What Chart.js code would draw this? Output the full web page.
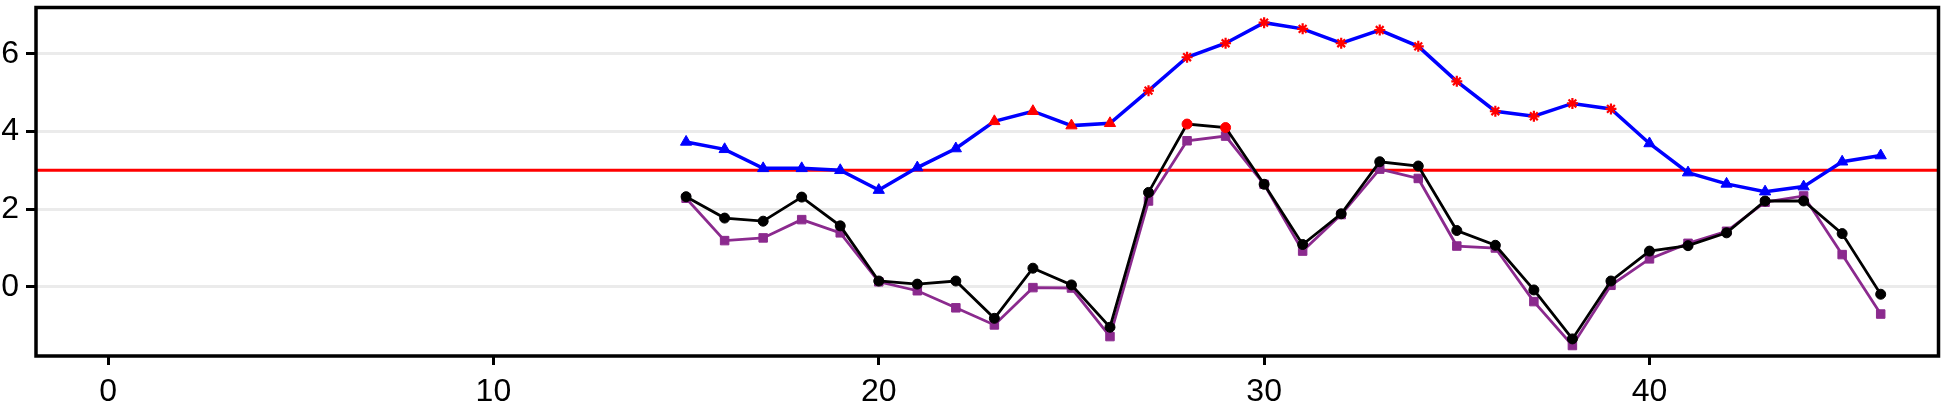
<!DOCTYPE html>
<html>
<head>
<meta charset="utf-8">
<script src="https://cdn.jsdelivr.net/npm/chart.js@4.4.1/dist/chart.umd.min.js"></script>
<style>
  html, body { margin: 0; padding: 0; background: #ffffff; }
  #wrap { width: 1946px; height: 405px; }
</style>
</head>
<body>
<div id="wrap"><canvas id="c" width="1946" height="405"></canvas></div>
<script>
// ---- data ----
const xValues = [15,16,17,18,19,20,21,22,23,24,25,26,27,28,29,30,31,32,33,34,35,36,37,38,39,40,41,42,43,44,45,46];
const blueSeries = [3.73,3.54,3.05,3.05,3.00,2.49,3.07,3.56,4.26,4.52,4.15,4.21,5.05,5.91,6.27,6.80,6.64,6.27,6.61,6.19,5.29,4.52,4.39,4.72,4.58,3.69,2.94,2.65,2.45,2.58,3.22,3.38];
// marker kind per blue point: 0 = blue triangle, 1 = red triangle, 2 = red star
const blueMarker = [0,0,0,0,0,0,0,0,1,1,1,1,2,2,2,2,2,2,2,2,2,2,2,2,2,0,0,0,0,0,0,0];
const blackSeries = [2.32,1.77,1.69,2.31,1.57,0.15,0.07,0.15,-0.81,0.48,0.05,-1.04,2.43,4.19,4.10,2.64,1.09,1.88,3.22,3.11,1.45,1.07,-0.08,-1.34,0.15,0.92,1.06,1.39,2.21,2.21,1.37,-0.19];
// 1 = highlighted (red) circle
const blackMarker = [0,0,0,0,0,0,0,0,0,0,0,0,0,1,1,0,0,0,0,0,0,0,0,0,0,0,0,0,0,0,0,0];
const purpleSeries = [2.28,1.19,1.26,1.73,1.39,0.13,-0.10,-0.54,-0.98,-0.02,-0.03,-1.28,2.21,3.76,3.88,2.64,0.92,1.86,3.03,2.79,1.05,1.00,-0.38,-1.51,0.04,0.72,1.12,1.43,2.18,2.34,0.83,-0.70];
const threshold = 3;
const xTicks = [0,10,20,30,40];
const yTicks = [0,2,4,6];
const xRange = [-1.87, 47.5];
const yRange = [-1.78, 7.19];

// ---- styles ----
const BLUE = '#0000FF', RED = '#FF0000', BLACK = '#000000', PURPLE = '#8B2A8E';
const FONT = { family: "'Liberation Sans', Arial, Helvetica, sans-serif", size: 32 };

const pts = arr => arr.map((v, i) => ({ x: xValues[i], y: v }));

const thresholdPlugin = {
  id: 'threshold',
  beforeDatasetsDraw(chart) {
    const { ctx, chartArea, scales } = chart;
    const y = scales.y.getPixelForValue(threshold);
    ctx.save();
    ctx.strokeStyle = RED;
    ctx.lineWidth = 3;
    ctx.beginPath();
    ctx.moveTo(chartArea.left, y);
    ctx.lineTo(chartArea.right, y);
    ctx.stroke();
    ctx.restore();
  }
};
const framePlugin = {
  id: 'frame',
  afterDatasetsDraw(chart) {
    const { ctx, chartArea } = chart;
    ctx.save();
    ctx.strokeStyle = BLACK;
    ctx.lineWidth = 3.5;
    ctx.strokeRect(chartArea.left, chartArea.top, chartArea.right - chartArea.left, chartArea.bottom - chartArea.top);
    ctx.restore();
  }
};

new Chart(document.getElementById('c'), {
  type: 'line',
  data: {
    datasets: [
      {
        label: 'blue',
        data: pts(blueSeries),
        borderColor: BLUE,
        borderWidth: 3.5,
        order: 1,
        pointStyle: blueMarker.map(m => m === 2 ? 'star' : 'triangle'),
        pointRadius: blueMarker.map(m => m === 2 ? 5.5 : 6.5),
        pointBackgroundColor: blueMarker.map(m => m === 0 ? BLUE : RED),
        pointBorderColor: blueMarker.map(m => m === 0 ? BLUE : RED),
        pointBorderWidth: blueMarker.map(m => m === 2 ? 2.2 : 1),
        tension: 0
      },
      {
        label: 'black',
        data: pts(blackSeries),
        borderColor: BLACK,
        borderWidth: 2.8,
        order: 2,
        pointStyle: 'circle',
        pointRadius: 5,
        pointBackgroundColor: blackMarker.map(m => m ? RED : BLACK),
        pointBorderColor: blackMarker.map(m => m ? RED : BLACK),
        pointBorderWidth: 1,
        tension: 0
      },
      {
        label: 'purple',
        data: pts(purpleSeries),
        borderColor: PURPLE,
        borderWidth: 2.8,
        order: 3,
        pointStyle: 'rect',
        pointRadius: 6,
        pointBackgroundColor: PURPLE,
        pointBorderColor: PURPLE,
        pointBorderWidth: 1,
        tension: 0
      }
    ]
  },
  options: {
    responsive: false,
    animation: false,
    events: [],
    layout: { padding: { top: 3, right: 4, left: 0, bottom: 0 } },
    plugins: { legend: { display: false }, tooltip: { enabled: false } },
    scales: {
      x: {
        type: 'linear',
        min: xRange[0], max: xRange[1],
        afterBuildTicks: s => { s.ticks = xTicks.map(v => ({ value: v })); },
        afterFit: s => { s.height = 49; s.paddingLeft = 0; s.paddingRight = 0; },
        border: { display: false },
        grid: { drawOnChartArea: false, drawTicks: true, tickLength: 9, tickColor: BLACK, tickWidth: 3 },
        ticks: { color: BLACK, font: FONT, padding: 8, maxRotation: 0, autoSkip: false }
      },
      y: {
        type: 'linear',
        min: yRange[0], max: yRange[1],
        afterBuildTicks: s => { s.ticks = yTicks.map(v => ({ value: v })); },
        afterFit: s => { s.width = 36; s.paddingTop = 0; s.paddingBottom = 0; },
        border: { display: false },
        grid: { color: '#EBEBEB', lineWidth: 3, drawTicks: true, tickLength: 10, tickColor: BLACK, tickWidth: 3 },
        ticks: { color: BLACK, font: FONT, padding: 7, autoSkip: false }
      }
    }
  },
  plugins: [thresholdPlugin, framePlugin]
});
</script>
</body>
</html>
